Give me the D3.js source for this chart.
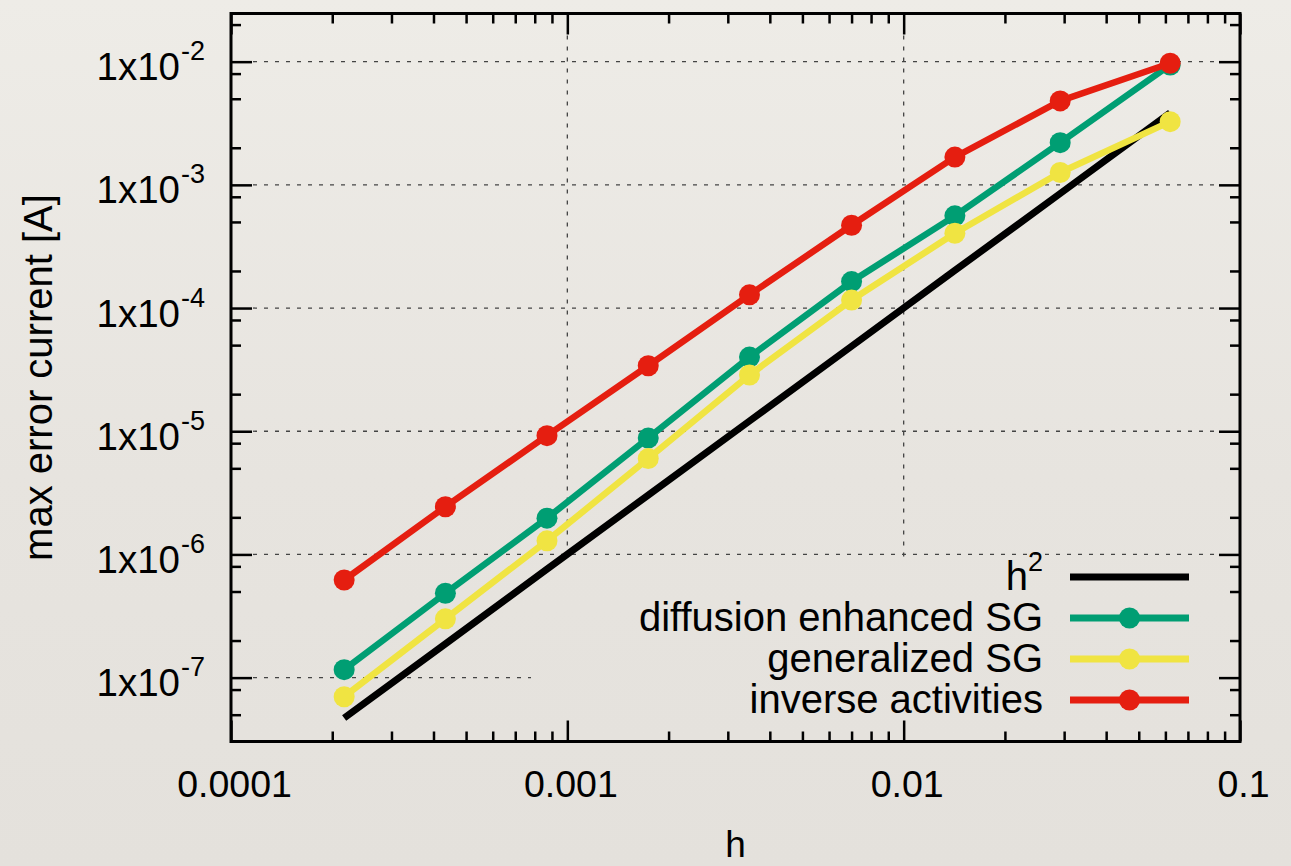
<!DOCTYPE html>
<html>
<head>
<meta charset="utf-8">
<script src="https://cdn.jsdelivr.net/npm/d3@7"></script>
<style>
html, body { margin: 0; padding: 0; }
body { width: 1291px; height: 866px; overflow: hidden; background: linear-gradient(#eeece7, #e7e4df 55%, #e4e1dc); }
text { font-family: "Liberation Sans", Arial, sans-serif; fill: #000; }
</style>
</head>
<body>
<svg id="chart" width="1291" height="866"></svg>
<script>
// values
const hValues = [2.17e-4, 4.34e-4, 8.7e-4, 1.74e-3, 3.48e-3, 7.0e-3, 1.42e-2, 2.92e-2, 6.2e-2];
const hSquared = [4.7e-8, 1.88e-7, 7.6e-7, 3.03e-6, 1.21e-5, 4.9e-5, 2.02e-4, 8.5e-4, 3.84e-3];
const diffusionSG = [1.16e-7, 4.84e-7, 1.97e-6, 8.8e-6, 4.0e-5, 1.64e-4, 5.6e-4, 2.2e-3, 9.4e-3];
const generalizedSG = [7.0e-8, 3.0e-7, 1.29e-6, 6.0e-6, 2.86e-5, 1.16e-4, 4.05e-4, 1.26e-3, 3.26e-3];
const inverseActivities = [6.2e-7, 2.44e-6, 9.2e-6, 3.4e-5, 1.28e-4, 4.7e-4, 1.68e-3, 4.8e-3, 9.7e-3];

const xMajor = [1e-4, 1e-3, 1e-2, 1e-1];
const xMajorLabels = ['0.0001', '0.001', '0.01', '0.1'];
const yMajor = [1e-7, 1e-6, 1e-5, 1e-4, 1e-3, 1e-2];
const yExponents = ['-7', '-6', '-5', '-4', '-3', '-2'];

const series = [
    {name: 'h', sup: '2', values: hSquared, color: '#000000', width: 7, marker: false},
    {name: 'diffusion enhanced SG', values: diffusionSG, color: '#009e73', width: 6.5, marker: true},
    {name: 'generalized SG', values: generalizedSG, color: '#f0e442', width: 6.5, marker: true},
    {name: 'inverse activities', values: inverseActivities, color: '#e51e10', width: 6.5, marker: true}
];

const svg = d3.select('#chart');
const x = d3.scaleLog().domain([1e-4, 1e-1]).range([231, 1240]);
const y = d3.scaleLog().domain([3.03e-8, 2.46e-2]).range([741.5, 13.5]);
const [plotLeft, plotRight] = x.range();
const [plotBottom, plotTop] = y.range();

// minor ticks: x every 2..9, y only at 2, 5, 8
let xMinor = [];
[1e-4, 1e-3, 1e-2].forEach(b => d3.range(2, 10).forEach(k => xMinor.push(b * k)));
let yMinor = [];
[1e-8, 1e-7, 1e-6, 1e-5, 1e-4, 1e-3, 1e-2].forEach(b => [2, 5, 8].forEach(k => yMinor.push(b * k)));
yMinor = yMinor.filter(v => v > y.domain()[0] && v < y.domain()[1]);

// legend area hides the grid
const legendLeft = 531, legendTop = 557;

const grid = svg.append('g')
    .attr('stroke', '#444')
    .attr('stroke-width', 1.3)
    .attr('stroke-dasharray', '4,7');
grid.selectAll('line.h')
    .data(yMajor)
    .join('line')
    .attr('class', 'h')
    .attr('x1', plotLeft + 22)
    .attr('x2', d => y(d) > legendTop ? legendLeft : plotRight - 22)
    .attr('y1', d => y(d))
    .attr('y2', d => y(d));
grid.selectAll('line.v')
    .data(xMajor.slice(1, 3))
    .join('line')
    .attr('class', 'v')
    .attr('x1', d => x(d))
    .attr('x2', d => x(d))
    .attr('y1', plotTop + 22)
    .attr('y2', d => x(d) > legendLeft ? legendTop : plotBottom - 22);

function styleAxis(g, size) {
    g.select('.domain').remove();
    g.selectAll('.tick line').attr('stroke', '#000').attr('stroke-width', 2.5);
    g.attr('font-family', '"Liberation Sans", Arial, sans-serif').attr('font-size', size);
}

// bottom axis
const xAxis = svg.append('g')
    .attr('transform', `translate(0,${plotBottom})`)
    .call(d3.axisBottom(x).tickValues(xMajor).tickSize(-21).tickPadding(29)
        .tickFormat((d, i) => xMajorLabels[i]));
styleAxis(xAxis, 37.5);
xAxis.selectAll('.tick text').attr('dx', 3);
svg.append('g')
    .attr('transform', `translate(0,${plotBottom})`)
    .call(d3.axisBottom(x).tickValues(xMinor).tickSize(-10).tickFormat(''))
    .call(g => styleAxis(g, 10));

// top axis (mirror)
svg.append('g')
    .attr('transform', `translate(0,${plotTop})`)
    .call(d3.axisTop(x).tickValues(xMajor).tickSize(-21).tickFormat(''))
    .call(g => styleAxis(g, 10));
svg.append('g')
    .attr('transform', `translate(0,${plotTop})`)
    .call(d3.axisTop(x).tickValues(xMinor).tickSize(-10).tickFormat(''))
    .call(g => styleAxis(g, 10));

// left axis
const yAxis = svg.append('g')
    .attr('transform', `translate(${plotLeft},0)`)
    .call(d3.axisLeft(y).tickValues(yMajor).tickSize(-21).tickPadding(26)
        .tickFormat(() => '1x10'));
styleAxis(yAxis, 38.5);
yAxis.selectAll('.tick text')
    .attr('dy', 18)
    .each(function(d, i) {
        d3.select(this).append('tspan')
            .attr('dx', 1)
            .attr('dy', -20)
            .attr('font-size', 27)
            .text(yExponents[i]);
    });
svg.append('g')
    .attr('transform', `translate(${plotLeft},0)`)
    .call(d3.axisLeft(y).tickValues(yMinor).tickSize(-10).tickFormat(''))
    .call(g => styleAxis(g, 10));

// right axis (mirror)
svg.append('g')
    .attr('transform', `translate(${plotRight},0)`)
    .call(d3.axisRight(y).tickValues(yMajor).tickSize(-21).tickFormat(''))
    .call(g => styleAxis(g, 10));
svg.append('g')
    .attr('transform', `translate(${plotRight},0)`)
    .call(d3.axisRight(y).tickValues(yMinor).tickSize(-10).tickFormat(''))
    .call(g => styleAxis(g, 10));

// border
svg.append('rect')
    .attr('x', plotLeft).attr('y', plotTop)
    .attr('width', plotRight - plotLeft).attr('height', plotBottom - plotTop)
    .attr('fill', 'none').attr('stroke', '#000').attr('stroke-width', 3);

// series
const line = d3.line()
    .x((d, i) => x(hValues[i]))
    .y(d => y(d));

series.forEach(s => {
    svg.append('path')
        .datum(s.values)
        .attr('d', line)
        .attr('fill', 'none')
        .attr('stroke', s.color)
        .attr('stroke-width', s.width)
        .attr('stroke-linejoin', 'round');
    if (s.marker) {
        svg.append('g')
            .selectAll('circle')
            .data(s.values)
            .join('circle')
            .attr('cx', (d, i) => x(hValues[i]))
            .attr('cy', d => y(d))
            .attr('r', 10.5)
            .attr('fill', s.color);
    }
});

// legend
const legend = svg.append('g');
const rows = legend.selectAll('g')
    .data(series)
    .join('g')
    .attr('transform', (d, i) => `translate(0,${577 + i * 41})`);
rows.append('line')
    .attr('x1', 1070).attr('x2', 1189)
    .attr('stroke', d => d.color)
    .attr('stroke-width', 7);
rows.filter(d => d.marker)
    .append('circle')
    .attr('cx', 1129.5)
    .attr('r', 10.5)
    .attr('fill', d => d.color);
const labels = rows.append('text')
    .attr('x', 1043)
    .attr('y', 13)
    .attr('text-anchor', 'end')
    .attr('font-size', 40)
    .text(d => d.name);
labels.filter(d => d.sup)
    .append('tspan')
    .attr('dy', -19)
    .attr('font-size', 27)
    .text(d => d.sup);

// axis titles
svg.append('text')
    .attr('x', (plotLeft + plotRight) / 2)
    .attr('y', 857)
    .attr('text-anchor', 'middle')
    .attr('font-size', 37)
    .text('h');
svg.append('text')
    .attr('transform', `translate(52,${(plotTop + plotBottom) / 2}) rotate(-90)`)
    .attr('text-anchor', 'middle')
    .attr('font-size', 40)
    .text('max error current [A]');
</script>
</body>
</html>
